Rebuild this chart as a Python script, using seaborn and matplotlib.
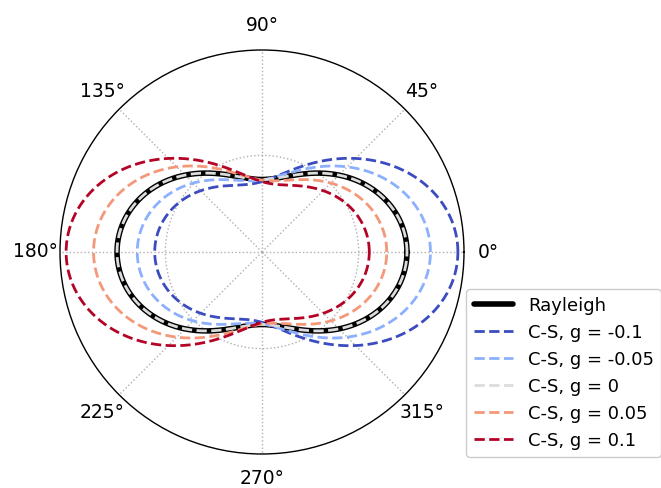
import numpy as np
import matplotlib
matplotlib.use("Agg")
import matplotlib.pyplot as plt
import seaborn as sns
import pandas as pd

# Asymmetry parameters for Cornette-Shanks curves
g_values = [-0.1, -0.05, 0, 0.05, 0.1]
cs_labels = ["C-S, g = -0.1", "C-S, g = -0.05", "C-S, g = 0", "C-S, g = 0.05", "C-S, g = 0.1"]
rayleigh_label = "Rayleigh"
theta_tick_deg = [0, 45, 90, 135, 180, 225, 270, 315]
r_ticks = [1.0]

theta = np.linspace(0, 2 * np.pi, 721)
mu = np.cos(theta)

def rayleigh(m):
    return 0.75 * (1 + m ** 2)

def cornette_shanks(m, g):
    return 1.5 * (1 - g ** 2) / (2 + g ** 2) * (1 + m ** 2) / (1 + g ** 2 + 2 * g * m) ** 1.5

rows = []
for g, lab in zip(g_values, cs_labels):
    for t, v in zip(theta, cornette_shanks(mu, g)):
        rows.append((t, v, lab))
df = pd.DataFrame(rows, columns=["theta", "p", "label"])

sns.set_style("white")
plt.rcParams["font.family"] = ["DejaVu Sans"]
plt.rcParams["text.color"] = "black"
plt.rcParams["xtick.color"] = "black"
plt.rcParams["ytick.color"] = "black"
plt.rcParams["axes.labelcolor"] = "black"

fig = plt.figure(figsize=(6.61, 4.88), dpi=100)
cx, cy, rad = 262, 252, 202
ax = fig.add_axes([(cx - rad) / 661, (488 - cy - rad) / 488, 2 * rad / 661, 2 * rad / 488], projection="polar")

ax.plot(theta, rayleigh(mu), color="black", lw=4, label=rayleigh_label)
palette = [plt.cm.coolwarm(i / (len(g_values) - 1)) for i in range(len(g_values))]
for lab, col in zip(cs_labels, palette):
    sub = df[df["label"] == lab]
    ax.plot(sub["theta"], sub["p"], ls="--", lw=2, color=col, label=lab)

ax.set_rmax(2.09)
ax.set_rticks(r_ticks)
ax.set_yticklabels([])
ax.set_thetagrids(theta_tick_deg, [f"{d}°" for d in theta_tick_deg], fontsize=13.5)
ax.tick_params(axis="x", colors="black", pad=7)
ax.grid(True, color="#b0b0b0", ls=":", lw=1)
ax.spines["polar"].set_color("black")
ax.spines["polar"].set_linewidth(1)

fig.legend(loc="lower right", bbox_to_anchor=(661 / 661, 31 / 488), fontsize=13,
           labelspacing=0.5, handlelength=2.2, borderaxespad=0.0,
           frameon=True, edgecolor="#cccccc", fancybox=True, framealpha=1)

fig.savefig("out.png", dpi=100)
